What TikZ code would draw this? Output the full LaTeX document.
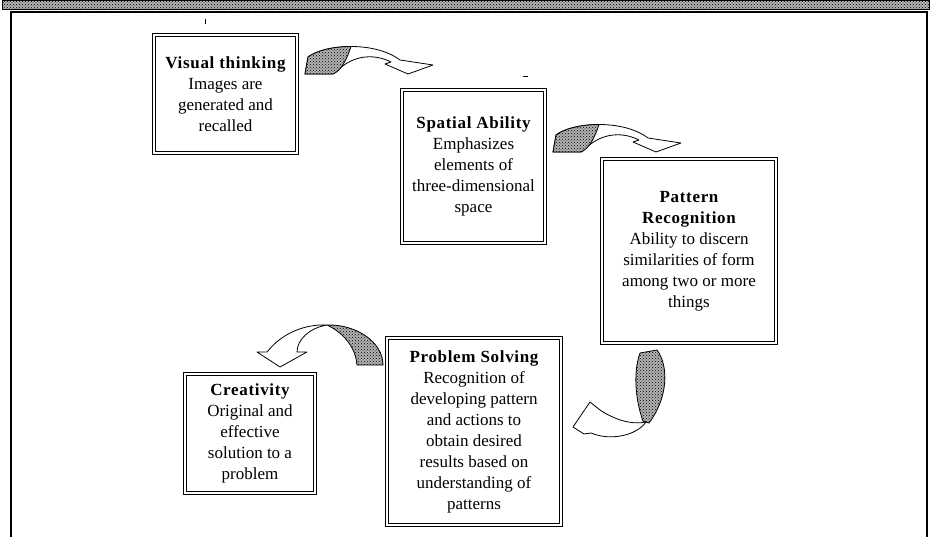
\documentclass[tikz,border=0pt]{standalone}
\usepackage{fontspec}
\setmainfont{Liberation Serif}
\usetikzlibrary{patterns}
\tikzset{
  box/.style={draw=black, line width=1pt, double=white, double distance=2.4pt,
    fill=white, align=center, inner sep=0pt, font=\fontsize{17}{21}\selectfont},
  stip/.style={draw=black, line width=0.8pt, line join=round, fill=gray!60,
    postaction={pattern=crosshatch dots, pattern color=black}},
  ribbon/.style={draw=black, line width=0.8pt, fill=white, line join=round},
  frameline/.style={draw=black, line width=1.2pt},
  arrA/.pic={
    \path[ribbon] (3,-17) .. controls (20,-30) and (70,-33) .. (95,-14) -- (128,-9)
      -- (103,0) -- (80,-10) -- (86,-12) .. controls (70,-20) and (52,-19) .. (37,-7.5)
      -- (28,0) -- (0,0) -- cycle;
    \path[stip] (0,0) -- (3,-17) .. controls (11.5,-23.5) and (28.25,-27.5) .. (46,-27.5)
      .. controls (42,-15) and (36,-3) .. (28,0) -- cycle;
  }
}
\newcommand{\ttl}[1]{{\bfseries\addfontfeatures{LetterSpace=4}#1}}
\begin{document}
\begin{tikzpicture}[x=1pt,y=-1pt]
\useasboundingbox (0,0) rectangle (931,537);
% top band and frame
\path[stip, line width=0.6pt] (2,0.6) rectangle (929,9.4);
\draw[frameline] (11,537) -- (11,12) -- (927,12) -- (927,537);
% scan marks
\draw[line width=0.6pt] (205,19) -- (205,24);
\draw[line width=1pt] (523,77) -- (528,77);

% boxes
\node[box, minimum width=142.6pt, minimum height=117.6pt] (vis) at (225.5,94)
  {\ttl{Visual thinking}\\Images are\\generated and\\recalled};
\node[box, minimum width=142.6pt, minimum height=152.6pt] (spa) at (473.5,166.5)
  {\ttl{Spatial Ability}\\Emphasizes\\elements of\\three-dimensional\\space};
\node[box, minimum width=173.6pt, minimum height=183.6pt] (pat) at (689,251)
  {\ttl{Pattern}\\\ttl{Recognition}\\Ability to discern\\similarities of form\\among two or more\\things};
\node[box, minimum width=173.6pt, minimum height=186.6pt] (pro) at (474,431.5)
  {\ttl{Problem Solving}\\Recognition of\\developing pattern\\and actions to\\obtain desired\\results based on\\understanding of\\patterns};
\node[box, minimum width=129.6pt, minimum height=118.6pt] (cre) at (250,433.5)
  {\ttl{Creativity}\\Original and\\effective\\solution to a\\problem};

% curved block arrows
\coordinate (t1) at (305,74);
\coordinate (t2) at (553,152);
\pic at (t1) {arrA};
\pic at (t2) {arrA};

% Pattern -> Problem
\path[ribbon] (646,422) .. controls (636,436) and (610,441) .. (591,433) -- (584,434)
  -- (573,427) -- (590,402) -- (600,410) .. controls (615,420) and (632,425) .. (646,422) -- cycle;
\path[stip] (640,353) -- (657,350) .. controls (669,366) and (668,398) .. (649,423)
  -- (643,421) .. controls (637,405) and (632,375) .. (640,353) -- cycle;

% Problem -> Creativity
\path[ribbon] (327,325) .. controls (305,324) and (282,333) .. (267,352) -- (257,352)
  -- (280,367) -- (307,352) -- (297,352) .. controls (297,340) and (309,328) .. (327,325) -- cycle;
\path[stip] (327,325) .. controls (356,324) and (383,342) .. (383,365) -- (357,365)
  .. controls (356,350) and (346,334) .. (327,325) -- cycle;
\end{tikzpicture}
\end{document}
